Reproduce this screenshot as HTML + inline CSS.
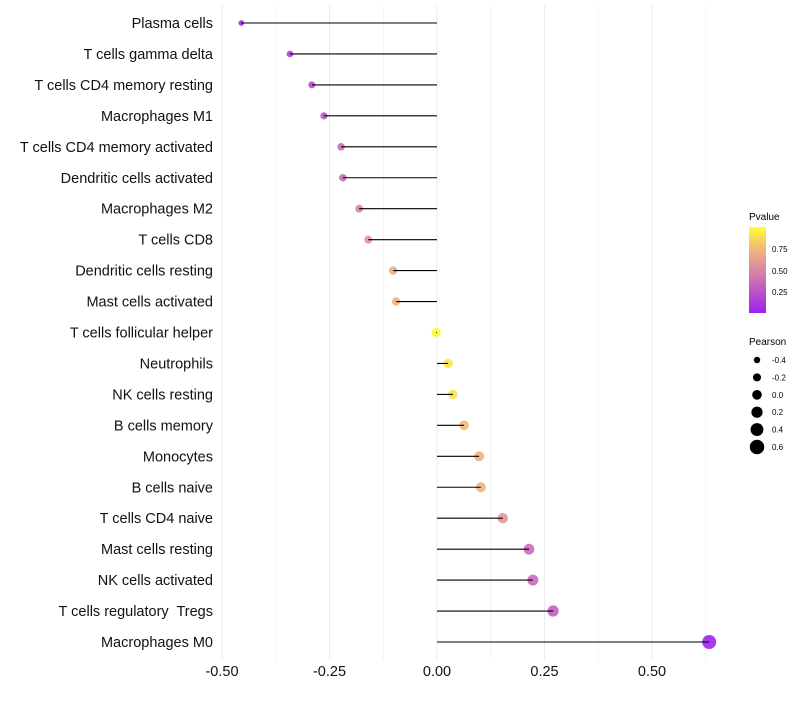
<!DOCTYPE html>
<html><head><meta charset="utf-8"><style>
body{margin:0;background:#fff;font-family:"Liberation Sans",sans-serif;}
svg text{font-family:"Liberation Sans",sans-serif;white-space:pre;}
</style></head><body>
<svg id="chart" width="800" height="700" xmlns="http://www.w3.org/2000/svg">
<defs><linearGradient id="pg" x1="0" y1="1" x2="0" y2="0">
<stop offset="0" stop-color="#a020f0"/><stop offset="0.5" stop-color="#d888a4"/><stop offset="0.75" stop-color="#f1b878"/><stop offset="1" stop-color="#ffff30"/></linearGradient></defs>
<g id="grid"></g><g id="marks"></g><g id="stems"></g><g id="labels"></g>
<g id="legend">
<text x="749" y="220" font-size="10">Pvalue</text>
<rect x="749" y="227" width="17" height="86" fill="url(#pg)"/>
<text x="772" y="252" font-size="8">0.75</text>
<text x="772" y="274" font-size="8">0.50</text>
<text x="772" y="295" font-size="8">0.25</text>
<text x="749" y="345" font-size="10">Pearson</text>
</g>
</svg>
<script>
const categories=["Plasma cells","T cells gamma delta","T cells CD4 memory resting","Macrophages M1","T cells CD4 memory activated","Dendritic cells activated","Macrophages M2","T cells CD8","Dendritic cells resting","Mast cells activated","T cells follicular helper","Neutrophils","NK cells resting","B cells memory","Monocytes","B cells naive","T cells CD4 naive","Mast cells resting","NK cells activated","T cells regulatory  Tregs","Macrophages M0"];
const pearson=[-0.455,-0.342,-0.291,-0.263,-0.223,-0.219,-0.181,-0.160,-0.102,-0.095,-0.002,0.026,0.037,0.063,0.098,0.102,0.153,0.214,0.223,0.270,0.633];
const pvalue=[0.05,0.15,0.22,0.27,0.35,0.36,0.5,0.56,0.7,0.72,0.99,0.92,0.9,0.76,0.72,0.72,0.58,0.36,0.36,0.3,0.01];
const xTicks=[-0.5,-0.25,0,0.25,0.5];
const xTickLabels=["-0.50","-0.25","0.00","0.25","0.50"];
const legendVals=[-0.4,-0.2,0.0,0.2,0.4,0.6];
const legendLabels=["-0.4","-0.2","0.0","0.2","0.4","0.6"];
const NS="http://www.w3.org/2000/svg";
const x=v=>437+v*430;
const y=i=>23+i*30.95;
const r=v=>4.6+3.8*v;
function lerp(a,b,t){return a.map((c,k)=>Math.round(c+(b[k]-c)*t));}
const stops=[[0,[160,32,240]],[0.5,[216,136,164]],[0.75,[241,184,120]],[1,[255,255,48]]];
function col(p){for(let k=1;k<stops.length;k++){if(p<=stops[k][0]){const t=(p-stops[k-1][0])/(stops[k][0]-stops[k-1][0]);const c=lerp(stops[k-1][1],stops[k][1],t);return `rgb(${c})`;}}return "rgb(255,255,48)";}
function mk(t,a,parent){const e=document.createElementNS(NS,t);for(const k in a)e.setAttribute(k,a[k]);document.getElementById(parent).appendChild(e);return e;}
for(let v=-0.5;v<=0.626;v+=0.125){const g=mk("line",{x1:x(v),x2:x(v),y1:5,y2:660,stroke:"#ebebeb","stroke-width":Math.abs(v*4-Math.round(v*4))<1e-6?1:0.6},"grid");

}
xTicks.forEach((v,i)=>{const t=mk("text",{x:x(v),y:676,"font-size":14.5,"text-anchor":"middle",fill:"#111"},"labels");t.textContent=xTickLabels[i];

});
categories.forEach((c,i)=>{
const t=mk("text",{x:213,y:y(i)+5,"font-size":14.5,"text-anchor":"end",fill:"#111"},"labels");t.textContent=c;


const d=mk("circle",{cx:x(pearson[i]),cy:y(i),r:r(pearson[i]),fill:col(pvalue[i]),"fill-opacity":0.9},"marks");


const l=mk("line",{x1:x(0),x2:x(pearson[i]),y1:y(i),y2:y(i),stroke:"#000","stroke-width":1.1},"stems");


});
legendVals.forEach((v,i)=>{const cy=360+i*17.4;
const c=mk("circle",{cx:757,cy:cy,r:r(v)*1.05,fill:"#000"},"legend");


const t=mk("text",{x:772,y:cy+3,"font-size":8},"legend");t.textContent=legendLabels[i];

});
</script>
</body></html>
